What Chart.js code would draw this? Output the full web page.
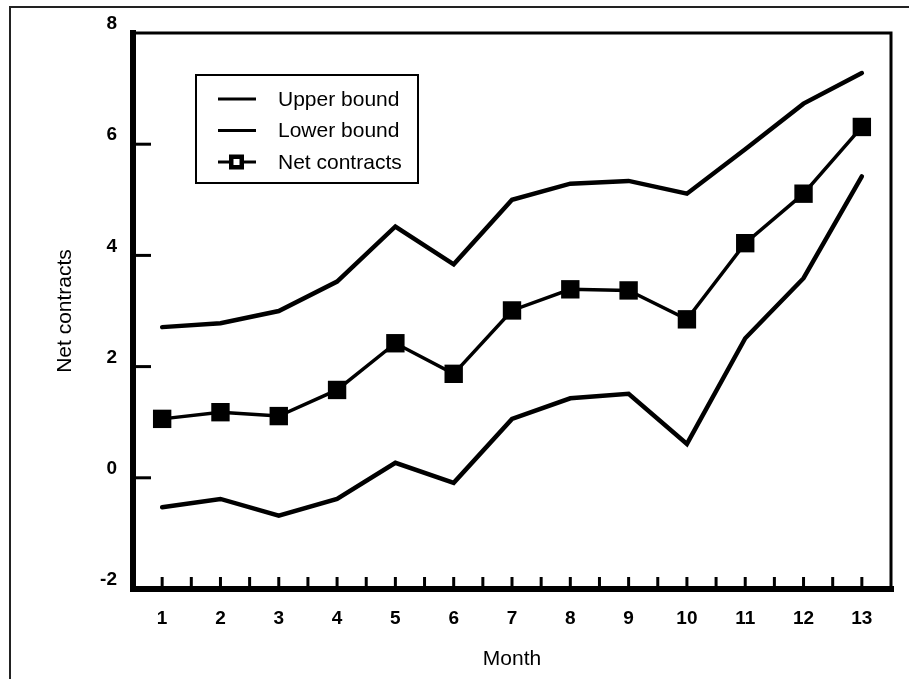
<!DOCTYPE html>
<html>
<head>
<meta charset="utf-8">
<script src="https://cdn.jsdelivr.net/npm/chart.js@4.4.1/dist/chart.umd.min.js"></script>
<style>
  html, body { margin: 0; padding: 0; background: #fff; }
  #wrap { position: relative; width: 909px; height: 679px; overflow: hidden; }
  #myChart { position: absolute; left: 0; top: 0; }
  /* edge of the scanned page */
  #scan { position: absolute; left: 9px; top: 6px; right: -4px; bottom: -4px;
          border-top: 2px solid #222; border-left: 2px solid #222; pointer-events: none; }
</style>
</head>
<body>
<div id="wrap">
  <canvas id="myChart" width="909" height="679"></canvas>
  <div id="scan"></div>
</div>
<script>
// values
const months = [1, 2, 3, 4, 5, 6, 7, 8, 9, 10, 11, 12, 13];
const upperBound = [2.71, 2.78, 3.00, 3.53, 4.52, 3.84, 5.00, 5.29, 5.34, 5.11, 5.91, 6.73, 7.28];
const lowerBound = [-0.53, -0.38, -0.68, -0.38, 0.27, -0.09, 1.06, 1.43, 1.51, 0.61, 2.51, 3.59, 5.42];
const netContracts = [1.06, 1.18, 1.11, 1.58, 2.42, 1.87, 3.01, 3.39, 3.37, 2.85, 4.22, 5.11, 6.31];
const yTickValues = [-2, 0, 2, 4, 6, 8];

const FONT = '"Liberation Sans", Arial, Helvetica, sans-serif';

function toPoints(values) {
    return months.map((m, i) => ({ x: m, y: values[i] }));
}

// frame with inward tick marks, like the original plot
const framePlugin = {
    id: 'frame',
    afterDatasetsDraw(chart) {
        const ctx = chart.ctx;
        const a = chart.chartArea;
        const xs = chart.scales.x;
        const ys = chart.scales.y;
        ctx.save();
        ctx.strokeStyle = '#000';
        ctx.lineCap = 'square';

        // top and right (thin)
        ctx.lineWidth = 3;
        ctx.beginPath();
        ctx.moveTo(a.left, a.top);
        ctx.lineTo(a.right, a.top);
        ctx.lineTo(a.right, a.bottom);
        ctx.stroke();

        // left and bottom (thick)
        ctx.lineWidth = 6;
        ctx.beginPath();
        ctx.moveTo(a.left, a.top);
        ctx.lineTo(a.left, a.bottom);
        ctx.lineTo(a.right, a.bottom);
        ctx.stroke();

        ctx.lineWidth = 3;
        ctx.lineCap = 'butt';
        // x ticks every half month
        xs.ticks.forEach(t => {
            if (t.value <= xs.min || t.value >= xs.max) return;
            const px = xs.getPixelForValue(t.value);
            ctx.beginPath();
            ctx.moveTo(px, a.bottom);
            ctx.lineTo(px, a.bottom - 12);
            ctx.stroke();
        });
        // y ticks
        yTickValues.forEach(v => {
            if (v <= ys.min || v >= ys.max) return;
            const py = ys.getPixelForValue(v);
            ctx.beginPath();
            ctx.moveTo(a.left, py);
            ctx.lineTo(a.left + 18, py);
            ctx.stroke();
        });
        ctx.restore();
    }
};

// boxed legend inside the plot area
const boxLegend = {
    id: 'boxLegend',
    afterDraw(chart) {
        const ctx = chart.ctx;
        ctx.save();
        ctx.fillStyle = '#fff';
        ctx.fillRect(196, 75, 222, 108);
        ctx.strokeStyle = '#000';
        ctx.lineWidth = 2;
        ctx.strokeRect(196, 75, 222, 108);

        chart.data.datasets.forEach((ds, i) => {
            const y = 99 + i * 31.5;
            ctx.lineWidth = 3;
            ctx.beginPath();
            ctx.moveTo(218, y);
            ctx.lineTo(256, y);
            ctx.stroke();
            if (ds.pointRadius > 0) {
                ctx.fillStyle = '#000';
                ctx.fillRect(229, y - 7.5, 15, 15);
                ctx.fillStyle = '#fff';
                ctx.fillRect(233.5, y - 3, 6, 6);
            }
            ctx.fillStyle = '#000';
            ctx.font = '21px ' + FONT;
            ctx.textBaseline = 'middle';
            ctx.textAlign = 'left';
            ctx.fillText(ds.label, 278, y + 1);
        });
        ctx.restore();
    }
};

const ctx = document.getElementById('myChart').getContext('2d');
const myChart = new Chart(ctx, {
    type: 'line',
    data: {
        datasets: [{
            label: 'Upper bound',
            data: toPoints(upperBound),
            borderColor: '#000',
            borderWidth: 4.5,
            borderCapStyle: 'round',
            pointRadius: 0
        }, {
            label: 'Lower bound',
            data: toPoints(lowerBound),
            borderColor: '#000',
            borderWidth: 4.5,
            borderCapStyle: 'round',
            pointRadius: 0
        }, {
            label: 'Net contracts',
            data: toPoints(netContracts),
            borderColor: '#000',
            borderWidth: 3.5,
            pointStyle: 'rect',
            pointRadius: 13,
            pointBorderWidth: 0,
            pointBackgroundColor: '#000',
            pointBorderColor: '#000'
        }]
    },
    options: {
        responsive: false,
        animation: false,
        layout: { padding: { left: 0, top: 33, right: 16, bottom: 0 } },
        plugins: {
            legend: { display: false },
            tooltip: { enabled: false }
        },
        scales: {
            x: {
                type: 'linear',
                min: 0.5,
                max: 13.5,
                grid: { display: false, drawTicks: false },
                border: { display: false },
                afterFit(scale) { scale.height = 90; },
                ticks: {
                    stepSize: 0.5,
                    autoSkip: false,
                    maxRotation: 0,
                    padding: 18,
                    color: '#000',
                    font: { family: FONT, size: 19, weight: 'bold' },
                    callback: v => Number.isInteger(v) ? String(v) : ''
                },
                title: {
                    display: true,
                    text: 'Month',
                    color: '#000',
                    padding: { top: 0, bottom: 7 },
                    font: { family: FONT, size: 21 }
                }
            },
            y: {
                min: -2,
                max: 8,
                grid: { display: false, drawTicks: false },
                border: { display: false },
                afterFit(scale) { scale.width = 133; },
                ticks: {
                    stepSize: 2,
                    padding: 16,
                    labelOffset: -9,
                    color: '#000',
                    font: { family: FONT, size: 19, weight: 'bold' }
                },
                title: {
                    display: true,
                    text: 'Net contracts',
                    color: '#000',
                    padding: { top: 53, bottom: 0 },
                    font: { family: FONT, size: 21 }
                }
            }
        }
    },
    plugins: [framePlugin, boxLegend]
});
</script>
</body>
</html>
